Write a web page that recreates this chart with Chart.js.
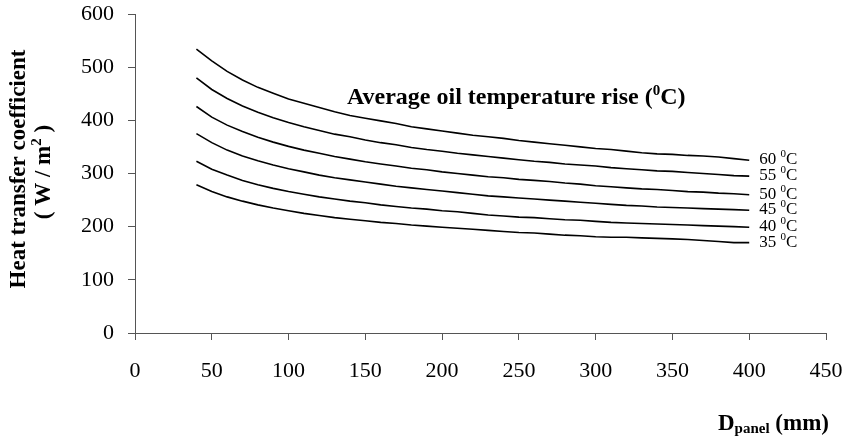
<!DOCTYPE html>
<html>
<head>
<meta charset="utf-8">
<script src="https://cdn.jsdelivr.net/npm/chart.js@4.4.1/dist/chart.umd.min.js"></script>
<style>
html,body{margin:0;padding:0;background:#fff;}
#wrap{width:849px;height:440px;}
</style>
</head>
<body>
<div id="wrap"><canvas id="c" width="849" height="440"></canvas></div>
<script>
// ---- data ----
const panelDepth = [40,50,60,70,80,90,100,110,120,130,140,150,160,170,180,190,200,210,220,230,240,250,260,270,280,290,300,310,320,330,340,350,360,370,380,390,400];
const rise60 = [534,512,492,476,462,451,440,432,424,416,409,404,399,394,388,384,380,376,372,369,366,362,359,356,353,350,347,345,342,339,337,336,334,333,331,328,325];
const rise55 = [480,458,441,427,415,405,396,388,381,374,369,363,358,354,349,345,342,338,335,332,329,326,323,321,318,316,314,311,309,307,305,304,302,300,298,296,295];
const rise50 = [426,406,391,379,368,359,351,344,338,332,327,322,318,314,310,307,303,300,297,294,292,289,287,285,282,280,277,275,273,271,270,268,266,265,263,262,260];
const rise45 = [375,358,344,333,324,316,309,303,297,292,288,284,280,276,273,270,267,264,261,258,256,254,252,250,248,246,244,242,240,239,237,236,235,234,233,232,231];
const rise40 = [323,308,297,287,279,272,266,261,256,252,248,245,241,238,235,233,230,228,225,222,220,218,217,215,213,212,210,208,207,206,205,204,203,202,201,200,199];
const rise35 = [279,266,256,248,241,235,230,225,221,217,214,211,208,206,203,201,199,197,195,193,191,189,188,186,184,183,181,180,180,179,178,177,176,174,172,170,170];
const seriesNames = ['60','55','50','45','40','35'];
const seriesValues = [rise60, rise55, rise50, rise45, rise40, rise35];
const xTicks = [0,50,100,150,200,250,300,350,400,450];
const yTicks = [0,100,200,300,400,500,600];

const SERIF = '"Liberation Serif", "Times New Roman", serif';

function richWidth(ctx, parts){
  let w = 0;
  for (const p of parts){ ctx.font = p.f; w += ctx.measureText(p.t).width; }
  return w;
}
function drawRich(ctx, parts, x, y){
  let cx = x;
  for (const p of parts){
    ctx.font = p.f;
    ctx.fillText(p.t, cx, y + (p.dy || 0));
    cx += ctx.measureText(p.t).width;
  }
}

const textPlugin = {
  id: 'texts',
  afterDraw(chart){
    const ctx = chart.ctx;
    ctx.save();
    ctx.fillStyle = '#000';
    ctx.textBaseline = 'alphabetic';
    ctx.textAlign = 'left';
    // annotation
    drawRich(ctx, [
      {t:'Average oil temperature rise (', f:'bold 24px ' + SERIF},
      {t:'0', f:'bold 15px ' + SERIF, dy:-9},
      {t:'C)', f:'bold 24px ' + SERIF}
    ], 347, 104);
    // series labels
    chart.data.datasets.forEach((ds, i) => {
      const meta = chart.getDatasetMeta(i);
      const pt = meta.data[meta.data.length - 1];
      drawRich(ctx, [
        {t: seriesNames[i] + ' ', f:'17px ' + SERIF},
        {t:'0', f:'11px ' + SERIF, dy:-7},
        {t:'C', f:'17px ' + SERIF}
      ], pt.x + 10, pt.y + 4);
    });
    // x title
    drawRich(ctx, [
      {t:'D', f:'bold 23px ' + SERIF},
      {t:'panel', f:'bold 15px ' + SERIF, dy:3},
      {t:' (mm)', f:'bold 23px ' + SERIF}
    ], 718, 430);
    // y title
    ctx.save();
    ctx.translate(25, 169);
    ctx.rotate(-Math.PI/2);
    ctx.textAlign = 'center';
    ctx.font = 'bold 23px ' + SERIF;
    ctx.fillText('Heat transfer coefficient', 0, 0);
    ctx.restore();
    ctx.save();
    ctx.translate(50, 172);
    ctx.rotate(-Math.PI/2);
    const parts = [
      {t:'( W / m', f:'bold 23px ' + SERIF},
      {t:'2', f:'bold 15px ' + SERIF, dy:-9},
      {t:' )', f:'bold 23px ' + SERIF}
    ];
    const w = richWidth(ctx, parts);
    drawRich(ctx, parts, -w/2, 0);
    ctx.restore();
    ctx.restore();
  }
};

const datasets = seriesValues.map((vals, i) => ({
  label: seriesNames[i],
  data: panelDepth.map((x, j) => ({x: x, y: vals[j]})),
  borderColor: '#000',
  borderWidth: 1.6,
  pointRadius: 0,
  tension: 0,
  fill: false
}));

new Chart(document.getElementById('c'), {
  type: 'line',
  data: { datasets },
  plugins: [textPlugin],
  options: {
    responsive: false,
    animation: false,
    layout: { padding: { top: 14, right: 23, left: 0, bottom: 0 } },
    plugins: { legend: { display: false }, tooltip: { enabled: false } },
    scales: {
      x: {
        type: 'linear', min: 0, max: 450,
        afterBuildTicks(s){ s.ticks = xTicks.map(v => ({value: v})); },
        afterFit(s){ s.height = 107; s.paddingLeft = 0; s.paddingRight = 0; },
        grid: { display: true, drawOnChartArea: false, drawTicks: true, tickLength: 7, color: '#555', lineWidth: 1 },
        border: { display: true, color: '#555', width: 1 },
        ticks: { color: '#000', padding: 18, maxRotation: 0, font: { family: SERIF, size: 22 } }
      },
      y: {
        type: 'linear', min: 0, max: 600,
        afterBuildTicks(s){ s.ticks = yTicks.map(v => ({value: v})); },
        afterFit(s){ s.width = 135; s.paddingTop = 0; s.paddingBottom = 0; },
        grid: { display: true, drawOnChartArea: false, drawTicks: true, tickLength: 7, color: '#555', lineWidth: 1 },
        border: { display: true, color: '#555', width: 1 },
        ticks: { color: '#000', padding: 14, font: { family: SERIF, size: 22 } }
      }
    }
  }
});
</script>
</body>
</html>
